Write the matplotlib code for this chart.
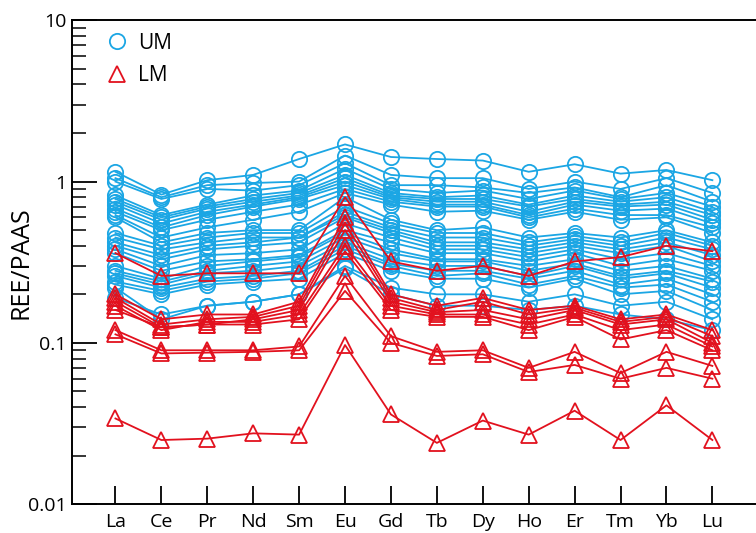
import matplotlib
matplotlib.use("Agg")
import matplotlib.pyplot as plt
from matplotlib.lines import Line2D
import numpy as np

elements = ["La", "Ce", "Pr", "Nd", "Sm", "Eu", "Gd", "Tb", "Dy", "Ho", "Er", "Tm", "Yb", "Lu"]

# UM samples (REE/PAAS)
um_1 = [1.15, 0.83, 1.02, 1.10, 1.38, 1.70, 1.42, 1.38, 1.35, 1.15, 1.28, 1.12, 1.18, 1.02]
um_2 = [1.05, 0.80, 0.95, 0.98, 1.00, 1.45, 1.10, 1.05, 1.05, 0.90, 1.00, 0.90, 1.05, 0.85]
um_3 = [1.00, 0.78, 0.90, 0.88, 0.95, 1.30, 0.95, 0.95, 0.92, 0.85, 0.92, 0.80, 0.95, 0.75]
um_4 = [0.82, 0.62, 0.72, 0.82, 0.88, 1.20, 0.90, 0.85, 0.88, 0.78, 0.88, 0.78, 0.85, 0.70]
um_5 = [0.78, 0.60, 0.70, 0.78, 0.85, 1.10, 0.85, 0.80, 0.82, 0.72, 0.82, 0.75, 0.80, 0.65]
um_6 = [0.75, 0.58, 0.68, 0.75, 0.82, 1.05, 0.82, 0.78, 0.78, 0.70, 0.78, 0.72, 0.75, 0.62]
um_7 = [0.72, 0.55, 0.65, 0.72, 0.80, 1.00, 0.80, 0.75, 0.75, 0.65, 0.75, 0.70, 0.72, 0.58]
um_8 = [0.68, 0.52, 0.62, 0.70, 0.78, 0.95, 0.78, 0.72, 0.72, 0.62, 0.72, 0.66, 0.68, 0.55]
um_9 = [0.65, 0.50, 0.58, 0.65, 0.72, 0.90, 0.75, 0.70, 0.70, 0.60, 0.68, 0.62, 0.62, 0.52]
um_10 = [0.62, 0.45, 0.52, 0.58, 0.65, 0.85, 0.72, 0.65, 0.66, 0.58, 0.65, 0.58, 0.60, 0.48]
um_11 = [0.60, 0.42, 0.48, 0.50, 0.50, 0.80, 0.58, 0.50, 0.52, 0.45, 0.48, 0.45, 0.50, 0.42]
um_12 = [0.48, 0.40, 0.45, 0.48, 0.48, 0.70, 0.55, 0.48, 0.48, 0.42, 0.46, 0.42, 0.48, 0.40]
um_13 = [0.45, 0.38, 0.42, 0.45, 0.45, 0.65, 0.52, 0.45, 0.45, 0.40, 0.44, 0.40, 0.45, 0.38]
um_14 = [0.42, 0.35, 0.40, 0.42, 0.45, 0.62, 0.50, 0.42, 0.42, 0.38, 0.42, 0.38, 0.42, 0.35]
um_15 = [0.40, 0.33, 0.38, 0.40, 0.42, 0.60, 0.48, 0.40, 0.40, 0.36, 0.40, 0.36, 0.40, 0.32]
um_16 = [0.38, 0.30, 0.35, 0.36, 0.38, 0.55, 0.45, 0.38, 0.38, 0.34, 0.38, 0.33, 0.36, 0.30]
um_17 = [0.36, 0.28, 0.32, 0.33, 0.35, 0.50, 0.42, 0.36, 0.36, 0.32, 0.36, 0.30, 0.33, 0.28]
um_18 = [0.30, 0.25, 0.30, 0.32, 0.34, 0.48, 0.38, 0.33, 0.33, 0.30, 0.33, 0.28, 0.30, 0.25]
um_19 = [0.28, 0.24, 0.28, 0.30, 0.32, 0.45, 0.36, 0.32, 0.32, 0.28, 0.31, 0.26, 0.28, 0.24]
um_20 = [0.27, 0.23, 0.27, 0.28, 0.30, 0.42, 0.33, 0.30, 0.30, 0.26, 0.30, 0.25, 0.27, 0.22]
um_21 = [0.26, 0.22, 0.25, 0.26, 0.28, 0.40, 0.31, 0.28, 0.28, 0.25, 0.28, 0.23, 0.25, 0.20]
um_22 = [0.24, 0.21, 0.24, 0.25, 0.27, 0.38, 0.30, 0.26, 0.27, 0.23, 0.26, 0.22, 0.23, 0.18]
um_23 = [0.23, 0.20, 0.23, 0.24, 0.25, 0.36, 0.28, 0.25, 0.25, 0.22, 0.25, 0.20, 0.21, 0.16]
um_24 = [0.22, 0.14, 0.17, 0.18, 0.20, 0.30, 0.22, 0.20, 0.20, 0.18, 0.20, 0.17, 0.18, 0.14]
um_25 = [0.19, 0.15, 0.17, 0.18, 0.20, 0.29, 0.20, 0.17, 0.17, 0.16, 0.17, 0.15, 0.14, 0.12]

# LM samples
lm_1 = [0.36, 0.26, 0.27, 0.27, 0.27, 0.80, 0.32, 0.28, 0.30, 0.26, 0.32, 0.34, 0.40, 0.37]
lm_2 = [0.20, 0.14, 0.15, 0.15, 0.18, 0.60, 0.20, 0.17, 0.19, 0.16, 0.17, 0.14, 0.15, 0.12]
lm_3 = [0.19, 0.13, 0.14, 0.145, 0.17, 0.55, 0.19, 0.16, 0.18, 0.15, 0.165, 0.135, 0.145, 0.11]
lm_4 = [0.18, 0.125, 0.13, 0.14, 0.16, 0.50, 0.18, 0.155, 0.16, 0.14, 0.16, 0.13, 0.14, 0.10]
lm_5 = [0.17, 0.12, 0.135, 0.135, 0.15, 0.40, 0.17, 0.15, 0.15, 0.13, 0.15, 0.12, 0.13, 0.095]
lm_6 = [0.16, 0.125, 0.13, 0.13, 0.14, 0.37, 0.16, 0.145, 0.145, 0.12, 0.145, 0.105, 0.12, 0.09]
lm_7 = [0.12, 0.09, 0.09, 0.09, 0.095, 0.26, 0.11, 0.088, 0.09, 0.07, 0.088, 0.065, 0.088, 0.072]
lm_8 = [0.113, 0.086, 0.087, 0.088, 0.09, 0.21, 0.10, 0.083, 0.085, 0.066, 0.073, 0.06, 0.07, 0.06]
lm_9 = [0.034, 0.025, 0.0255, 0.0275, 0.027, 0.097, 0.036, 0.024, 0.033, 0.027, 0.038, 0.025, 0.041, 0.025]

um_samples = [um_1, um_2, um_3, um_4, um_5, um_6, um_7, um_8, um_9, um_10, um_11, um_12, um_13,
              um_14, um_15, um_16, um_17, um_18, um_19, um_20, um_21, um_22, um_23, um_24, um_25]
lm_samples = [lm_1, lm_2, lm_3, lm_4, lm_5, lm_6, lm_7, lm_8, lm_9]

BLUE = "#1ba6e4"
RED = "#e2111e"

plt.rcParams['font.family'] = ['Open Sans', 'DejaVu Sans']

fig = plt.figure(figsize=(7.56, 5.33), dpi=100)
ax = fig.add_axes([0.095, 0.054, 0.905, 0.908])

x = np.arange(len(elements))
for s in um_samples:
    ax.plot(x, s, color=BLUE, lw=1.3, marker='o', ms=11, mfc='none', mec=BLUE, mew=1.3)
for s in lm_samples:
    ax.plot(x, s, color=RED, lw=1.3, marker='^', ms=11.5, mfc='none', mec=RED, mew=1.3)

ax.set_yscale('log')
ax.set_ylim(0.01, 10)
ax.set_xlim(-0.95, 13.95)
ax.set_xticks(x)
ax.set_xticklabels(elements, fontsize=14)
ax.set_yticks([0.01, 0.1, 1, 10])
ax.set_yticklabels(["0.01", "0.1", "1", "10"], fontsize=14)
ax.set_ylabel("REE/PAAS", fontsize=18)
ax.yaxis.set_label_coords(-0.056, 0.5)

ax.tick_params(axis='y', which='major', direction='in', length=18, width=1.3, pad=4)
ax.tick_params(axis='y', which='minor', direction='in', length=10, width=1.1)
ax.tick_params(axis='x', which='major', direction='in', length=13, width=1.3, pad=6)
ax.tick_params(axis='x', which='minor', bottom=False)
for side in ['left', 'bottom', 'top']:
    ax.spines[side].set_linewidth(1.4)
ax.spines['right'].set_visible(False)

handles = [Line2D([], [], ls='none', marker='o', ms=11, mfc='none', mec=BLUE, mew=1.3),
           Line2D([], [], ls='none', marker='^', ms=12, mfc='none', mec=RED, mew=1.3)]
ax.legend(handles, ["UM", "LM"], loc='upper left', frameon=False, fontsize=15,
          handlelength=1.2, handletextpad=0.4, borderaxespad=0.2, labelspacing=0.55,
          bbox_to_anchor=(0.03, 1.0))

fig.savefig("out.png", dpi=100)
